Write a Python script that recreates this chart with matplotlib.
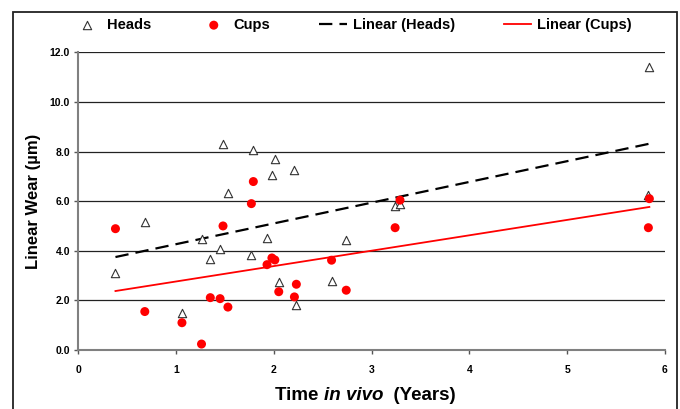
import matplotlib
matplotlib.use("Agg")
import matplotlib.pyplot as plt
from matplotlib.patches import Rectangle
import numpy as np

plt.rcParams['font.family'] = ['Liberation Sans', 'DejaVu Sans']

# data (years in vivo, linear wear in um)
heads_t = [0.38, 0.68, 1.06, 1.26, 1.35, 1.45, 1.48, 1.53, 1.79, 1.77, 1.93, 1.98,
           2.01, 2.05, 2.21, 2.23, 2.59, 2.74, 3.24, 3.29, 5.84, 5.83]
heads_w = [3.12, 5.17, 1.50, 4.48, 3.66, 4.06, 8.31, 6.32, 8.06, 3.82, 4.52, 7.07,
           7.70, 2.75, 7.27, 1.83, 2.78, 4.44, 5.81, 5.87, 11.40, 6.24]
cups_t = [0.38, 0.68, 1.06, 1.26, 1.35, 1.45, 1.48, 1.53, 1.79, 1.77, 1.93, 1.98,
          2.01, 2.05, 2.23, 2.21, 2.59, 2.74, 3.24, 3.29, 5.84, 5.83]
cups_w = [4.89, 1.55, 1.10, 0.24, 2.11, 2.07, 5.00, 1.73, 6.79, 5.90, 3.44, 3.71,
          3.63, 2.35, 2.65, 2.14, 3.62, 2.41, 4.93, 6.04, 6.10, 4.93]

xticks = [0, 1, 2, 3, 4, 5, 6]
yticks = [0, 2, 4, 6, 8, 10, 12]
legend_order = ['Heads', 'Cups', 'Linear (Heads)', 'Linear (Cups)']

W, H = 680, 409
fig = plt.figure(figsize=(W / 100, H / 100), dpi=100)
ax = fig.add_axes([78.3 / W, 1 - 350 / H, (665 - 78.3) / W, (350 - 52.3) / H])

# outer chart border
fig.patches.append(Rectangle((13 / W, (H - 12) / H - 1.2), (677 - 13) / W, 1.2,
                             transform=fig.transFigure, fill=False,
                             edgecolor='#222222', lw=1.3, zorder=10))

ax.scatter(heads_t, heads_w, marker='^', s=36, facecolors='white',
           edgecolors='#333333', linewidths=0.8, zorder=3, label='Heads')
ax.scatter(cups_t, cups_w, marker='o', s=42, color='#ff0000',
           edgecolors='none', zorder=4, label='Cups')

# Excel-style linear trendlines over the data range
for t, w, style in [(heads_t, heads_w, dict(color='black', lw=1.6, dashes=(6, 3.2),
                                           label='Linear (Heads)')),
                    (cups_t, cups_w, dict(color='#ff0000', lw=1.3, label='Linear (Cups)'))]:
    k, b = np.polyfit(t, w, 1)
    xs = np.array([min(t), max(t)])
    ax.plot(xs, k * xs + b, zorder=2, **style)

ax.set_xlim(0, 6)
ax.set_ylim(0, 12)
ax.set_xticks(xticks)
ax.set_yticks(yticks)
ax.set_yticklabels([f"{v:.1f}" for v in yticks])
ax.grid(axis='y', color='#222222', lw=0.9)
ax.set_axisbelow(True)
for s in ['top', 'right']:
    ax.spines[s].set_visible(False)
for s in ['left', 'bottom']:
    ax.spines[s].set_color('#808080')
    ax.spines[s].set_linewidth(1.5)
ax.tick_params(axis='both', direction='out', length=3, width=1, color='#555555',
               labelsize=7.5)
ax.tick_params(axis='x', pad=8)
ax.tick_params(axis='y', pad=3)
for lab in ax.get_xticklabels() + ax.get_yticklabels():
    lab.set_fontweight('bold')

fig.text(34 / W, 1 - 201 / H, 'Linear Wear (\u00b5m)', rotation=90, ha='center',
         va='center', fontsize=12, fontweight='bold')

# x label with italic part
fig.canvas.draw()
r = fig.canvas.get_renderer()
x0 = 275.0
yl = 1 - 395 / H
for txt, st in [('Time ', 'normal'), ('in vivo', 'italic'), ('  (Years)', 'normal')]:
    t = fig.text(x0 / W, yl, txt, ha='left', va='center', fontsize=13.5,
                 fontweight='bold', fontstyle=st)
    x0 += t.get_window_extent(r).width

h, l = ax.get_legend_handles_labels()
hmap = dict(zip(l, h))
fig.legend([hmap[k] for k in legend_order], legend_order, ncol=4,
           loc='center', bbox_to_anchor=(352.5 / W, 1 - 25 / H), frameon=False,
           prop=dict(size=10.5, weight='bold'), handlelength=1.9,
           handletextpad=0.4, columnspacing=3.35, scatterpoints=1)

fig.savefig('out.png', dpi=100)
